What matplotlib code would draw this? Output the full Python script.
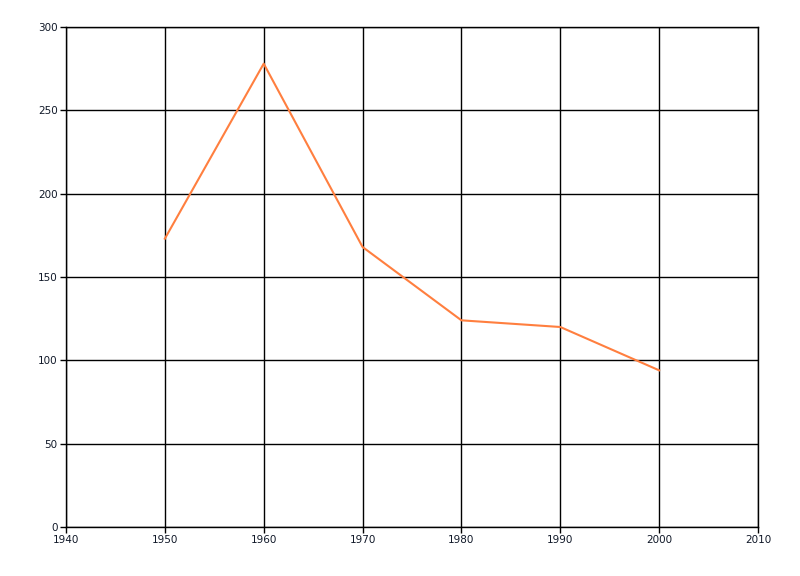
import matplotlib
matplotlib.use("Agg")
import matplotlib.pyplot as plt

# data
years = [1950, 1960, 1970, 1980, 1990, 2000]
values = [173, 278, 168, 124, 120, 94]
x_ticks = [1940, 1950, 1960, 1970, 1980, 1990, 2000, 2010]
y_ticks = [0, 50, 100, 150, 200, 250, 300]

fig = plt.figure(figsize=(8, 5.76), dpi=100)
ax = fig.add_axes([66 / 800, 49 / 576, 692 / 800, 500 / 576])

ax.plot(years, values, color="#FF7F3F", linewidth=1.5)

ax.set_xlim(1940, 2010)
ax.set_ylim(0, 300)
ax.set_xticks(x_ticks)
ax.set_yticks(y_ticks)
ax.grid(True, color="black", linewidth=1)
ax.set_axisbelow(True)

for s in ax.spines.values():
    s.set_color("black")
    s.set_linewidth(1)

ax.tick_params(direction="out", length=4, width=1, labelsize=7.5,
               colors="black", labelcolor="#101828", pad=2)

fig.savefig("out.png", dpi=100)
